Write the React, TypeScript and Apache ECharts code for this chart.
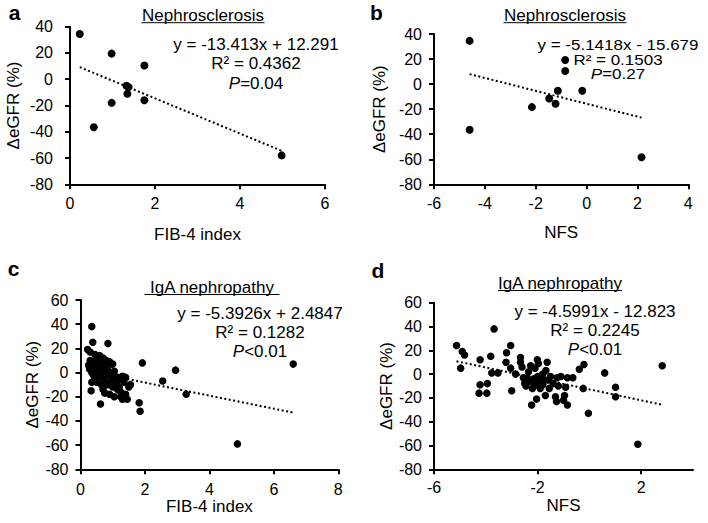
import React, { useEffect, useRef } from 'react';
import * as echarts from 'echarts';

// Panel a: Nephrosclerosis, FIB-4 index vs ΔeGFR
const fibA = [0.23, 0.98, 1.75, 1.33, 1.38, 1.35, 0.98, 1.75, 0.56, 4.98];
const egfrA = [34.5, 19.5, 10.5, -5, -6, -11, -18, -16, -36.5, -58];
// Panel b: Nephrosclerosis, NFS vs ΔeGFR
const nfsB = [-4.6, -0.84, -0.84, -1.13, -0.17, -1.47, -1.22, -2.15, -4.6, 2.16];
const egfrB = [34.5, 19.2, 10.4, -5.3, -5.3, -11.5, -15.7, -18.4, -36.5, -58.4];
// Panel c: IgA nephropathy, FIB-4 index vs ΔeGFR
const fibC = [0.35, 0.38, 0.85, 0.22, 0.3, 0.45, 1.92, 2.95, 6.6, 2.55, 3.28, 1.82, 1.85, 4.87, 0.33, 0.62,
  0.25, 0.28, 0.4, 0.5, 0.55, 0.6, 0.65, 0.7, 0.75, 0.8, 0.9, 0.95, 1.0, 1.05, 0.4, 0.45, 0.5, 0.55, 0.6,
  0.65, 0.7, 0.72, 0.8, 0.85, 0.9, 0.95, 1.0, 1.05, 1.1, 1.15, 1.2, 1.25, 1.3, 1.3, 1.35, 1.4, 1.45, 1.5,
  1.4, 0.35, 0.3, 0.5, 0.6, 0.75, 1.0, 1.15, 0.85, 1.2, 0.7, 0.45, 0.35, 1.55, 0.9, 1.25];
const egfrC = [38, 25, 24, 19, 17, 15, 8, 2, 7, -7, -18, -25, -32, -59, -15, -26,
  6, 3, 4, 12, 10, 14, 8, 12, 6, 10, 9, 7, 7, 1, -2, -5, -8, 0, -3,
  -10, -14, -6, -2, -10, -18, -5, -12, -20, -8, -4, -12, -16, -3, -22, -8, -18, -22, -12,
  -4, -8, 10, 2, 5, -17, -2, -14, 2, -6, 2, 7, 0, -10, -8, -20];
// Panel d: IgA nephropathy, NFS vs ΔeGFR
const nfsD = [-5.13, -4.91, -4.82, -4.97, -4.22, -3.81, -3.68, -3.77, -3.53, -4.22, -3.94, -4.26, -3.96, -3.2,
  -3.04, -3.22, -3.04, -2.85, -3.0, -2.66, -2.66, -2.6, -2.55, -2.5, -2.45, -2.4, -2.3, -2.27, -2.23, -2.2,
  -2.15, -2.1, -2.04, -2.01, -1.97, -2.0, -1.95, -1.9, -1.85, -1.8, -1.75, -1.7, -1.68, -1.63, -1.6, -1.55,
  -1.5, -1.4, -1.31, -1.27, -1.25, -1.1, -1.0, -0.96, -0.92, -0.85, -0.85, -0.64, -0.39, -0.21, -0.24, -0.04,
  0.59, 1.01, 1.01, 1.87, 2.81, -1.2, -1.8, -2.35, -2.1];
const egfrD = [24, 19, 16, 5, 12, 15, 38, 1, 1, -9, -8, -16, -16, 18,
  24, 10, 5, 0, -14, 14, 10, 6, -3, -8, -10, -3, -6, 7, -26, -12,
  -4, -9, -21, 12, 9, -2, -7, -12, -4, -9, -5, -18, 3, 10, -5, -12,
  -2, -8, -19, -23, -3, -2, -22, -18, -11, -26, -3, -3, 4, 8, -12, -33,
  1, -11, -19, -59, 7, -10, 0, 2, 5];

const titles = ['Nephrosclerosis', 'Nephrosclerosis', 'IgA nephropathy', 'IgA nephropathy'];
const letters = ['a', 'b', 'c', 'd'];
const xNames = ['FIB-4 index', 'NFS', 'FIB-4 index', 'NFS'];
const yName = 'ΔeGFR (%)';
const eqTexts = ['y = -13.413x + 12.291', 'y = -5.1418x - 15.679', 'y = -5.3926x + 2.4847', 'y = -4.5991x - 12.823'];
const r2Texts = ['R² = 0.4362', 'R² = 0.1503', 'R² = 0.1282', 'R² = 0.2245'];
const pTexts = ['=0.04', '=0.27', '<0.01', '<0.01'];
const slopes = [-13.413, -5.1418, -5.3926, -4.5991];
const intercepts = [12.291, -15.679, 2.4847, -12.823];
const xMins = [0, -6, 0, -6];
const xMaxs = [6, 4, 8, 4];
const yMins = [-80, -80, -80, -80];
const yMaxs = [40, 40, 60, 60];

const FONT = '"Liberation Sans", Arial, Helvetica, sans-serif';

export default function App() {
  const ref = useRef<HTMLDivElement>(null);
  useEffect(() => {
    if (!ref.current) return;
    const chart = echarts.init(ref.current, undefined, { renderer: 'svg' });
    const xs = [fibA, nfsB, fibC, nfsD];
    const ys = [egfrA, egfrB, egfrC, egfrD];
    const grids = [
      { left: 70, top: 26.7, width: 255, height: 157.6 },
      { left: 434, top: 34, width: 254.3, height: 150.3 },
      { left: 80.5, top: 300, width: 257.8, height: 169.3 },
      { left: 434, top: 302.7, width: 259, height: 166.6 },
    ];
    const xLabelMargin = [11, 11, 12, 10];
    const yLabelMargin = [17, 12, 12, 12];
    const xNameGap = [42, 40, 29, 28];
    const yNameGap = [48, 46, 36, 36];
    const titlePos = [[203, 15, 22.7], [565, 15, 22.7], [212, 287, 294.5], [560, 283.5, 290.5]];
    const titleW = [123, 123, 135, 124];
    const eqPos = [
      [256, 44.3, 63.3, 83.3],
      [618, 45, 59.5, 74],
      [260, 313.3, 332.7, 351.7],
      [595, 311.7, 330, 349],
    ];
    const eqScaleY = [1, 0.84, 1, 1];
    const letterPos = [[14.5, 12.5], [376.5, 12], [13.5, 268], [378, 270]];

    const axisLine = { lineStyle: { color: '#000', width: 2 } };
    const axisTick = { length: 5, lineStyle: { color: '#000', width: 2 } };
    const labelStyle = { color: '#000', fontSize: 16, fontFamily: FONT };
    const nameStyle = { color: '#000', fontSize: 17, fontFamily: FONT };

    const xAxis: any[] = [];
    const yAxis: any[] = [];
    const series: any[] = [];
    const graphic: any[] = [];

    for (let i = 0; i < 4; i++) {
      const isD = i === 3;
      xAxis.push({
        type: 'value', gridIndex: i, min: xMins[i], max: xMaxs[i], interval: isD ? 4 : 2,
        splitLine: { show: false },
        axisLine: { ...axisLine, onZero: false },
        axisTick: isD ? { ...axisTick, customValues: [-6, -2, 2] } : axisTick,
        axisLabel: isD ? { ...labelStyle, margin: xLabelMargin[i], customValues: [-6, -2, 2] } : { ...labelStyle, margin: xLabelMargin[i] },
        name: xNames[i], nameLocation: 'middle', nameGap: xNameGap[i], nameTextStyle: nameStyle,
      });
      yAxis.push({
        type: 'value', gridIndex: i, min: yMins[i], max: yMaxs[i], interval: 20,
        splitLine: { show: false },
        axisLine: { ...axisLine, show: true, onZero: false },
        axisTick: { ...axisTick, show: true },
        axisLabel: { ...labelStyle, margin: yLabelMargin[i] },
        name: yName, nameLocation: 'middle', nameRotate: 90, nameGap: yNameGap[i], nameTextStyle: nameStyle,
      });
      const pts = xs[i].map((x, k) => [x, ys[i][k]]);
      series.push({
        type: 'scatter', xAxisIndex: i, yAxisIndex: i, data: pts, symbolSize: i < 2 ? 8 : 7.5,
        itemStyle: { color: '#000', opacity: 1 }, silent: true,
      });
      const x0 = Math.min(...xs[i]);
      const x1 = Math.max(...xs[i]);
      series.push({
        type: 'line', xAxisIndex: i, yAxisIndex: i, symbol: 'none', silent: true,
        data: [[x0, slopes[i] * x0 + intercepts[i]], [x1, slopes[i] * x1 + intercepts[i]]],
        lineStyle: { color: '#000', width: 2, type: [2, 2.5] },
      });

      const [tx, ty, uy] = titlePos[i];
      graphic.push({
        type: 'text', x: tx, y: ty,
        style: { text: titles[i], fill: '#000', font: `17px ${FONT}`, textAlign: 'center', textVerticalAlign: 'middle' },
      });
      graphic.push({
        type: 'line', shape: { x1: tx - titleW[i] / 2, y1: uy, x2: tx + titleW[i] / 2, y2: uy },
        style: { stroke: '#000', lineWidth: 1 },
      });
      const [ex, e1, e2, e3] = eqPos[i];
      const sy = eqScaleY[i];
      graphic.push({
        type: 'text', x: ex, y: e1, scaleY: sy,
        style: { text: eqTexts[i], fill: '#000', font: `17px ${FONT}`, textAlign: 'center', textVerticalAlign: 'middle' },
      });
      graphic.push({
        type: 'text', x: ex, y: e2, scaleY: sy,
        style: { text: r2Texts[i], fill: '#000', font: `17px ${FONT}`, textAlign: 'center', textVerticalAlign: 'middle' },
      });
      graphic.push({
        type: 'text', x: ex, y: e3, scaleY: sy,
        style: {
          text: `{i|P}{n|${pTexts[i]}}`, fill: '#000', textAlign: 'center', textVerticalAlign: 'middle',
          rich: {
            i: { fontStyle: 'italic', fontSize: 17, fontFamily: FONT, fill: '#000' },
            n: { fontSize: 17, fontFamily: FONT, fill: '#000' },
          },
        },
      });
      graphic.push({
        type: 'text', x: letterPos[i][0], y: letterPos[i][1],
        style: { text: letters[i], fill: '#000', font: `bold 21px ${FONT}`, textAlign: 'center', textVerticalAlign: 'middle' },
      });
    }

    chart.setOption({
      animation: false,
      backgroundColor: '#fff',
      grid: grids.map((g) => ({ ...g, containLabel: false })),
      xAxis, yAxis, series, graphic,
    });
    return () => chart.dispose();
  }, []);
  return <div ref={ref} style={{ position: 'fixed', left: 0, top: 0, width: 708, height: 523 }} />;
}
